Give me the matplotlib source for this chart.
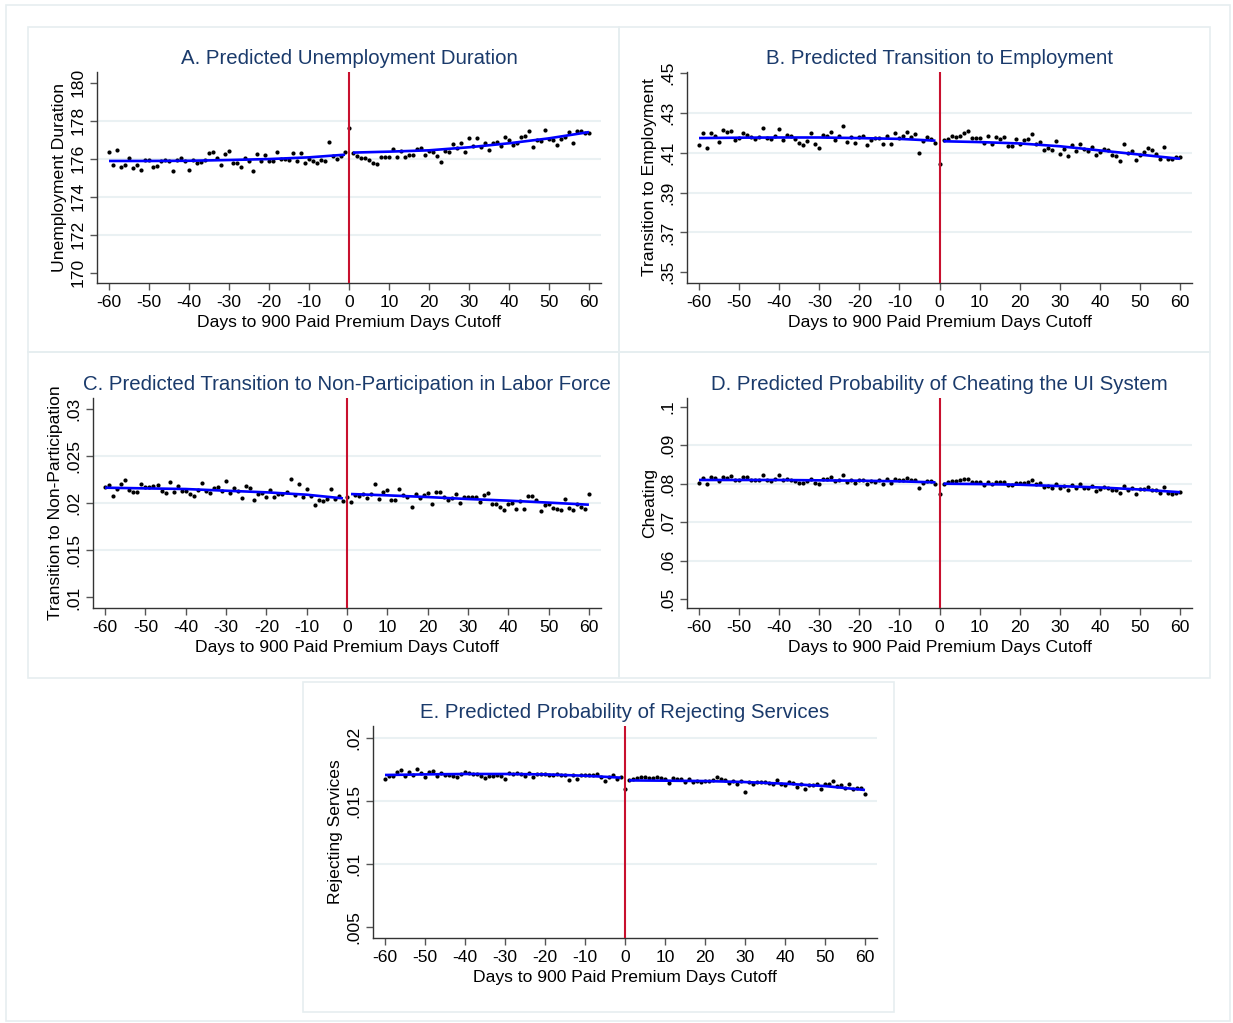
import numpy as np
import matplotlib
matplotlib.use("Agg")
import matplotlib.pyplot as plt
from matplotlib.patches import Rectangle

plt.rcParams['font.family'] = ['Liberation Sans', 'DejaVu Sans']

# dias em relação ao corte
days = np.arange(-60, 61)

# A. duração do desemprego (-60..0, depois 1..60)
dur_left = [176.33, 175.67, 176.47, 175.58, 175.65, 176.05, 175.49, 175.65, 175.40, 175.93,
            175.95, 175.56, 175.60, 175.89, 175.91, 175.89, 175.37, 175.95, 176.02, 175.86,
            175.39, 175.95, 175.75, 175.84, 175.95, 176.30, 176.33, 176.05, 175.68, 176.25,
            176.42, 175.75, 175.79, 175.58, 176.05, 175.86, 175.33, 176.23, 175.89, 176.18,
            175.89, 175.88, 176.37, 176.00, 176.00, 175.95, 176.28, 175.88, 176.28, 175.77,
            175.98, 175.89, 175.75, 175.91, 175.89, 176.89, 176.14, 176.00, 176.14, 176.35,
            177.61]
dur_right = [176.32, 176.14, 176.02, 176.02, 175.95, 175.79, 175.70, 176.07, 176.07, 176.07,
             176.49, 176.07, 176.39, 176.07, 176.21, 176.18, 176.53, 176.54, 176.21, 176.39,
             176.33, 176.14, 175.84, 176.40, 176.33, 176.75, 176.58, 176.84, 176.33, 177.07,
             176.65, 177.07, 176.60, 176.81, 176.44, 176.82, 176.89, 176.65, 177.16, 176.96,
             176.72, 176.84, 177.16, 177.18, 177.46, 176.61, 176.98, 176.95, 177.49, 177.02,
             177.00, 176.72, 177.04, 177.12, 177.42, 176.81, 177.44, 177.47, 177.37, 177.37]

# B. transição para emprego
emp_left = [.4137, .4198, .4123, .4200, .4186, .4153, .4216, .4203, .4212, .4165,
            .4172, .4200, .4191, .4181, .4167, .4179, .4226, .4174, .4167, .4182,
            .4218, .4165, .4191, .4184, .4168, .4147, .4137, .4161, .4200, .4144,
            .4126, .4191, .4182, .4205, .4165, .4182, .4235, .4156, .4177, .4149,
            .4181, .4182, .4140, .4165, .4172, .4174, .4142, .4186, .4146, .4198,
            .4174, .4184, .4205, .4179, .4195, .4100, .4161, .4179, .4170, .4147,
            .4042]
emp_right = [.4163, .4170, .4182, .4177, .4184, .4202, .4209, .4175, .4175, .4172,
             .4151, .4182, .4142, .4179, .4168, .4177, .4135, .4132, .4167, .4142,
             .4165, .4170, .4195, .4142, .4153, .4116, .4126, .4116, .4161, .4096,
             .4121, .4084, .4139, .4109, .4144, .4118, .4109, .4128, .4088, .4104,
             .4119, .4116, .4088, .4082, .4058, .4144, .4100, .4109, .4065, .4091,
             .4102, .4126, .4112, .4093, .4068, .4128, .4067, .4067, .4079, .4079]

# C. transição para fora da força de trabalho
nlf_left = [.02169, .02187, .02077, .02151, .02197, .02243, .02137, .02116, .02120, .02204,
            .02172, .02172, .02183, .02190, .02130, .02106, .02225, .02120, .02180, .02130,
            .02127, .02095, .02070, .02134, .02211, .02123, .02109, .02162, .02169, .02127,
            .02236, .02109, .02162, .02123, .02056, .02183, .02158, .02032, .02099, .02109,
            .02067, .02134, .02067, .02092, .02099, .02113, .02253, .02081, .02201, .02067,
            .02144, .02070, .01982, .02035, .02025, .02046, .02144, .02042, .02070, .02018,
            .02063]
nlf_right = [.02014, .02088, .02077, .02099, .02053, .02095, .02197, .02042, .02120, .02134,
             .02032, .02032, .02148, .02084, .02067, .01954, .02092, .02056, .02088, .02106,
             .01993, .02120, .02120, .02067, .02032, .02056, .02099, .02004, .02063, .02063,
             .02063, .02063, .02007, .02081, .02109, .01986, .01993, .01958, .01930, .01989,
             .02004, .01940, .02025, .01940, .02074, .02074, .02028, .01919, .01975, .01989,
             .01951, .01933, .01923, .02042, .01947, .01930, .01993, .01958, .01940, .02099]

# D. probabilidade de fraude
cheat_left = [.08018, .08150, .07982, .08167, .08150, .08062, .08185, .08158, .08211, .08088,
              .08088, .08176, .08176, .08088, .08088, .08106, .08220, .08088, .08062, .08114,
              .08238, .08097, .08132, .08106, .08070, .08009, .08009, .08062, .08132, .08026,
              .07982, .08132, .08132, .08167, .08070, .08106, .08220, .08035, .08088, .08026,
              .08106, .08088, .07991, .08070, .08053, .08088, .08000, .08114, .08009, .08132,
              .08088, .08106, .08141, .08106, .08106, .07877, .08026, .08079, .08062, .08000,
              .07745]
cheat_right = [.08000, .08053, .08079, .08070, .08097, .08114, .08123, .08044, .08053, .08053,
               .07965, .08053, .07982, .08053, .08044, .08044, .07956, .07956, .08026, .08018,
               .08018, .08035, .08097, .07982, .08009, .07903, .07938, .07894, .08000, .07886,
               .07930, .07842, .07956, .07894, .07982, .07894, .07886, .07938, .07824, .07868,
               .07921, .07894, .07833, .07833, .07771, .07938, .07850, .07877, .07745, .07868,
               .07859, .07921, .07850, .07833, .07762, .07903, .07762, .07736, .07762, .07789]

# E. probabilidade de recusar serviços
rej_left = [.01669, .01696, .01696, .01728, .01741, .01696, .01730, .01701, .01754, .01717,
            .01688, .01730, .01738, .01696, .01717, .01706, .01706, .01693, .01685, .01709,
            .01730, .01722, .01714, .01712, .01698, .01680, .01693, .01698, .01701, .01696,
            .01675, .01717, .01712, .01722, .01712, .01693, .01720, .01685, .01714, .01712,
            .01712, .01706, .01704, .01714, .01704, .01706, .01667, .01701, .01672, .01701,
            .01701, .01706, .01701, .01712, .01690, .01653, .01685, .01701, .01672, .01685,
            .01595]
rej_right = [.01667, .01672, .01683, .01685, .01685, .01683, .01677, .01690, .01677, .01672,
             .01643, .01680, .01669, .01672, .01646, .01669, .01648, .01653, .01651, .01659,
             .01653, .01664, .01688, .01669, .01661, .01638, .01656, .01632, .01653, .01566,
             .01651, .01635, .01651, .01651, .01646, .01638, .01632, .01661, .01630, .01622,
             .01648, .01643, .01611, .01630, .01590, .01622, .01622, .01635, .01595, .01635,
             .01632, .01656, .01619, .01622, .01598, .01635, .01595, .01598, .01600, .01550]

# curvas ajustadas (antes e depois do corte)
fit_x_left = [-60, -50, -40, -30, -20, -10, -1]
fit_x_right = [1, 10, 20, 30, 40, 50, 60]
dur_fit_l = [175.88, 175.88, 175.89, 175.93, 175.98, 176.07, 176.21]
dur_fit_r = [176.32, 176.37, 176.44, 176.60, 176.81, 177.07, 177.40]
emp_fit_l = [.4174, .4176, .4177, .4177, .4174, .4170, .4161]
emp_fit_r = [.4158, .4154, .4147, .4133, .4112, .4091, .4070]
nlf_fit_l = [.02162, .02155, .02148, .02130, .02113, .02088, .02049]
nlf_fit_r = [.02095, .02081, .02063, .02042, .02025, .02004, .01982]
cheat_fit_l = [.08097, .08097, .08097, .08088, .08079, .08062, .08035]
cheat_fit_r = [.08000, .07991, .07974, .07938, .07903, .07850, .07780]
rej_fit_l = [.01704, .01709, .01712, .01712, .01709, .01698, .01683]
rej_fit_r = [.01661, .01659, .01656, .01648, .01635, .01616, .01585]

xticks = list(range(-60, 61, 10))

panels = [
    dict(title="A. Predicted Unemployment Duration", ylabel="Unemployment Duration",
         left=dur_left, right=dur_right, fl=dur_fit_l, fr=dur_fit_r,
         yticks=[170, 172, 174, 176, 178, 180],
         ytl=["170", "172", "174", "176", "178", "180"], grid=[172, 174, 176, 178],
         ylim=(169.46, 180.56), box=(97, 72, 601, 283)),
    dict(title="B. Predicted Transition to Employment", ylabel="Transition to Employment",
         left=emp_left, right=emp_right, fl=emp_fit_l, fr=emp_fit_r,
         yticks=[.35, .37, .39, .41, .43, .45],
         ytl=[".35", ".37", ".39", ".41", ".43", ".45"], grid=[.37, .39, .41, .43],
         ylim=(.3446, .4506), box=(687, 72, 1192, 283)),
    dict(title="C. Predicted Transition to Non-Participation in Labor Force",
         ylabel="Transition to Non-Participation",
         left=nlf_left, right=nlf_right, fl=nlf_fit_l, fr=nlf_fit_r,
         yticks=[.01, .015, .02, .025, .03],
         ytl=[".01", ".015", ".02", ".025", ".03"], grid=[.015, .02, .025],
         ylim=(.00888, .03112), box=(93, 398, 601, 608)),
    dict(title="D. Predicted Probability of Cheating the UI System", ylabel="Cheating",
         left=cheat_left, right=cheat_right, fl=cheat_fit_l, fr=cheat_fit_r,
         yticks=[.05, .06, .07, .08, .09, .1],
         ytl=[".05", ".06", ".07", ".08", ".09", ".1"], grid=[.06, .07, .08, .09],
         ylim=(.04776, .10224), box=(687, 398, 1192, 608)),
    dict(title="E. Predicted Probability of Rejecting Services", ylabel="Rejecting Services",
         left=rej_left, right=rej_right, fl=rej_fit_l, fr=rej_fit_r,
         yticks=[.005, .01, .015, .02],
         ytl=[".005", ".01", ".015", ".02"], grid=[.01, .015, .02],
         ylim=(.0041, .02093), box=(373, 726, 877, 938)),
]

W, H = 1233, 1023
fig = plt.figure(figsize=(W / 100, H / 100), dpi=100)
fig.patch.set_facecolor("white")

frame_col = "#e6eef0"
frames = [(6, 5, 1230, 1021), (28, 27, 619, 352), (619, 27, 1210, 352),
          (28, 352, 619, 678), (619, 352, 1210, 678), (303, 682, 894, 1012)]
for x0, y0, x1, y1 in frames:
    fig.add_artist(Rectangle((x0 / W, 1 - y1 / H), (x1 - x0) / W, (y1 - y0) / H,
                             transform=fig.transFigure, fill=False,
                             edgecolor=frame_col, linewidth=1.2))

title_col = "#1a3a6b"
for p in panels:
    x0, y0, x1, y1 = p["box"]
    ax = fig.add_axes([x0 / W, 1 - y1 / H, (x1 - x0) / W, (y1 - y0) / H])

    for g in p["grid"]:
        ax.axhline(g, color="#eaf1f3", linewidth=1.5, zorder=0)

    yvals = np.concatenate([p["left"], p["right"]])
    ax.plot(days, yvals, "o", color="black", ms=3.0, mec="none", zorder=3)

    ax.plot(fit_x_left, p["fl"], color="#0000ff", linewidth=1.9,
            solid_capstyle="butt", zorder=4)
    ax.plot(fit_x_right, p["fr"], color="#0000ff", linewidth=1.9,
            solid_capstyle="butt", zorder=4)

    ax.axvline(0, color="#c8102e", linewidth=1.5, zorder=5)

    ax.set_xlim(-63, 63)
    ax.set_ylim(*p["ylim"])
    ax.set_xticks(xticks)
    ax.set_xticklabels([str(t) for t in xticks])
    ax.set_yticks(p["yticks"])
    ax.set_yticklabels(p["ytl"], rotation=90, va="center")
    for s in ["top", "right"]:
        ax.spines[s].set_visible(False)
    for s in ["left", "bottom"]:
        ax.spines[s].set_color("#333333")
        ax.spines[s].set_linewidth(1.0)
    ax.tick_params(length=5, width=1, color="#555555", labelsize=12.6, pad=3.5)
    ax.set_xlabel("Days to 900 Paid Premium Days Cutoff", fontsize=12.6, labelpad=4)
    ax.set_ylabel(p["ylabel"], fontsize=12.6, labelpad=2)
    ax.set_title(p["title"], fontsize=14.7, color=title_col, pad=6)

plt.savefig("out.png", dpi=100, facecolor="white")
